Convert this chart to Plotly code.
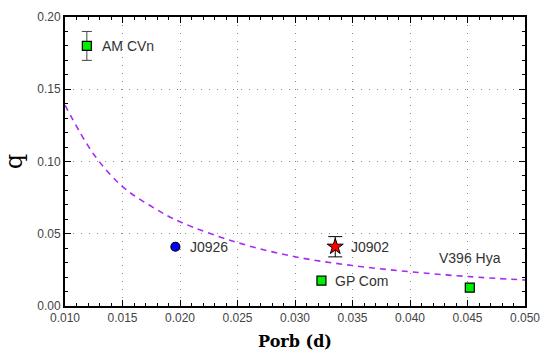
import plotly.graph_objects as go

# Curve
curve_p = [0.010, 0.0125, 0.015, 0.0175, 0.020, 0.025, 0.030, 0.035, 0.040, 0.045, 0.050]
curve_q = [0.139, 0.105, 0.0826, 0.069, 0.0583, 0.0439, 0.0341, 0.0280, 0.0237, 0.0204, 0.018]

# Squares
sq_names = ["AM CVn", "GP Com", "V396 Hya"]
sq_p = [0.0119, 0.0323, 0.0452]
sq_q = [0.180, 0.0175, 0.0127]
sq_err = [0.010, 0.0, 0.0]

# J0926
c_p = [0.0196]
c_q = [0.041]

# J0902
st_p = [0.0335]
st_q = [0.041]
st_err = [0.007]

fig = go.Figure()
fig.add_trace(go.Scatter(x=curve_p, y=curve_q, mode="lines", line_shape="spline",
                         line=dict(color="#a52cf5", width=1.6, dash="6px,5px"),
                         showlegend=False, hoverinfo="skip"))
fig.add_trace(go.Scatter(x=sq_p[:1], y=sq_q[:1], mode="markers",
                         error_y=dict(type="data", array=sq_err[:1], color="#444", thickness=1, width=5),
                         marker=dict(symbol="square", size=9, color="#00ee00", line=dict(color="black", width=1.2)),
                         showlegend=False))
fig.add_trace(go.Scatter(x=sq_p[1:], y=sq_q[1:], mode="markers",
                         marker=dict(symbol="square", size=9, color="#00ee00", line=dict(color="black", width=1.2)),
                         showlegend=False))
fig.add_trace(go.Scatter(x=c_p, y=c_q, mode="markers",
                         marker=dict(symbol="circle", size=9, color="#0000ff", line=dict(color="black", width=1.2)),
                         showlegend=False))
fig.add_trace(go.Scatter(x=st_p, y=st_q, mode="markers",
                         error_y=dict(type="data", array=st_err, color="black", thickness=1, width=7),
                         marker=dict(symbol="star", size=12, color="#ff0000", line=dict(color="black", width=1)),
                         showlegend=False))

lab_font = dict(family="Liberation Sans, Arial, sans-serif", size=14, color="#333")
labels = [
    ("AM CVn", sq_p[0], sq_q[0], 0.0011, 0.0),
    ("J0926", c_p[0], c_q[0], 0.0011, 0.0),
    ("J0902", st_p[0], st_q[0], 0.0012, 0.0),
    ("GP Com", sq_p[1], sq_q[1], 0.0010, 0.0),
]
for txt, x, y, dx, dy in labels:
    fig.add_annotation(x=x + dx, y=y + dy, text=txt, showarrow=False, xanchor="left",
                       yanchor="middle", font=lab_font)
fig.add_annotation(x=sq_p[2], y=0.0330, text="V396 Hya", showarrow=False,
                   xanchor="center", yanchor="middle", font=lab_font)

axis_common = dict(showline=True, linecolor="black", linewidth=2, mirror="ticks",
                   ticks="inside", ticklen=6, tickcolor="black", tickwidth=1,
                   showgrid=True, gridcolor="#888", griddash="1px,7px", gridwidth=1,
                   zeroline=False, automargin=False,
                   tickfont=dict(family="Liberation Sans, Arial, sans-serif", size=12, color="#444"))

fig.update_xaxes(range=[0.010, 0.050], dtick=0.005, tick0=0.010, tickformat=".3f",
                 minor=dict(dtick=0.001, ticks="inside", ticklen=3, tickcolor="black", showgrid=False),
                 title=dict(text="<b>Porb (d)</b>", font=dict(family="DejaVu Serif", size=16, color="black"),
                            standoff=11),
                 **axis_common)
fig.update_yaxes(range=[0.0, 0.20], dtick=0.05, tick0=0.0, tickformat=".2f",
                 minor=dict(dtick=0.01, ticks="inside", ticklen=3, tickcolor="black", showgrid=False),
                 title=dict(text="q", font=dict(family="DejaVu Serif", size=24, color="black"),
                            standoff=12),
                 **axis_common)

fig.update_layout(width=542, height=351, margin=dict(l=65, r=17, t=17, b=45),
                  plot_bgcolor="white", paper_bgcolor="white")

fig.write_html("out.html")
